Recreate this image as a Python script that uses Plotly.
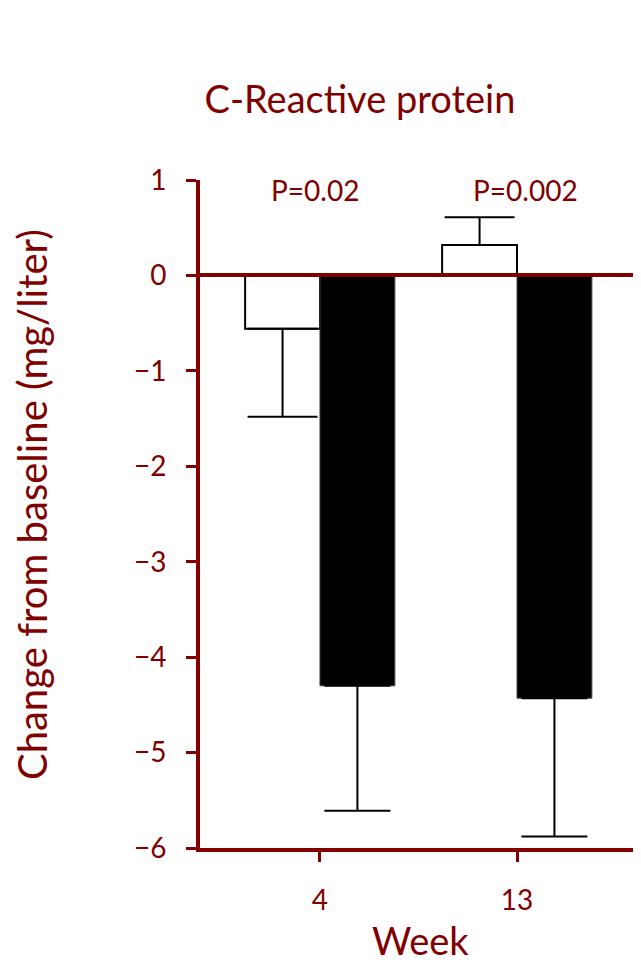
import plotly.graph_objects as go

weeks = ["4", "13"]
placebo = [-0.56, 0.32]
placebo_err_up = [0, 0.29]
placebo_err_down = [0.92, 0]
treated = [-4.30, -4.43]
treated_err_up = [0, 0]
treated_err_down = [1.31, 1.45]
p_labels = ["P=0.02", "P=0.002"]

RED = "#800000"
FONT = "Lato"

fig = go.Figure()
fig.add_trace(go.Bar(
    x=weeks, y=placebo, name="Placebo",
    marker=dict(color="white", line=dict(color="black", width=2)),
    error_y=dict(type="data", symmetric=False, array=placebo_err_up,
                 arrayminus=placebo_err_down, color="black", thickness=2, width=35),
))
fig.add_trace(go.Bar(
    x=weeks, y=treated, name="Treated",
    marker=dict(color="black", line=dict(color="#444", width=1)),
    error_y=dict(type="data", symmetric=False, array=treated_err_up,
                 arrayminus=treated_err_down, color="black", thickness=2, width=33),
))

for i, t in enumerate(p_labels):
    fig.add_annotation(x=i, y=1, yshift=-10, xshift=[-5, 8][i], text=t, showarrow=False,
                       font=dict(family=FONT, size=28, color=RED), xref="x", yref="y")

# axis titles
fig.add_annotation(text="Change from baseline (mg/liter)", textangle=-90, showarrow=False,
                   xref="paper", yref="paper", x=-0.374, y=0.5135,
                   xanchor="center", yanchor="middle",
                   font=dict(family=FONT, size=40, color=RED))
fig.add_annotation(text="Week", showarrow=False, xref="paper", yref="paper",
                   x=0.492, y=-117 / 668, xanchor="center", yanchor="bottom",
                   font=dict(family=FONT, size=38, color=RED))

fig.update_layout(
    width=641, height=957,
    margin=dict(l=192, r=0, t=172, b=117, autoexpand=False),
    plot_bgcolor="white", paper_bgcolor="white",
    barmode="group", bargap=0.24, bargroupgap=0,
    showlegend=False,
    title=dict(text="C-Reactive protein", x=(360 - 8) / 641, xanchor="center",
               y=1 - 92 / 957, yanchor="middle",
               font=dict(family=FONT, size=38, color=RED)),
    font=dict(family=FONT, color=RED),
)
fig.update_xaxes(
    type="category", range=[-0.609, 1.67], automargin=False,
    showline=True, linecolor=RED, linewidth=4,
    ticks="outside", ticklen=10, tickwidth=3, tickcolor=RED,
    tickfont=dict(family=FONT, size=28, color=RED), ticklabelstandoff=14,
    showgrid=False, zeroline=False,
)
fig.update_yaxes(
    range=[-6, 1], tickvals=[1, 0, -1, -2, -3, -4, -5, -6], automargin=False,
    ticktext=["1", "0", "\u22121", "\u22122", "\u22123", "\u22124", "\u22125", "\u22126"],
    showline=True, linecolor=RED, linewidth=4,
    ticks="outside", ticklen=10, tickwidth=3, tickcolor=RED,
    tickfont=dict(family=FONT, size=28, color=RED), ticklabelstandoff=14,
    showgrid=False, zeroline=True, zerolinecolor=RED, zerolinewidth=4,
    zerolinelayer="above traces",
)

fig.write_html("out.html")
